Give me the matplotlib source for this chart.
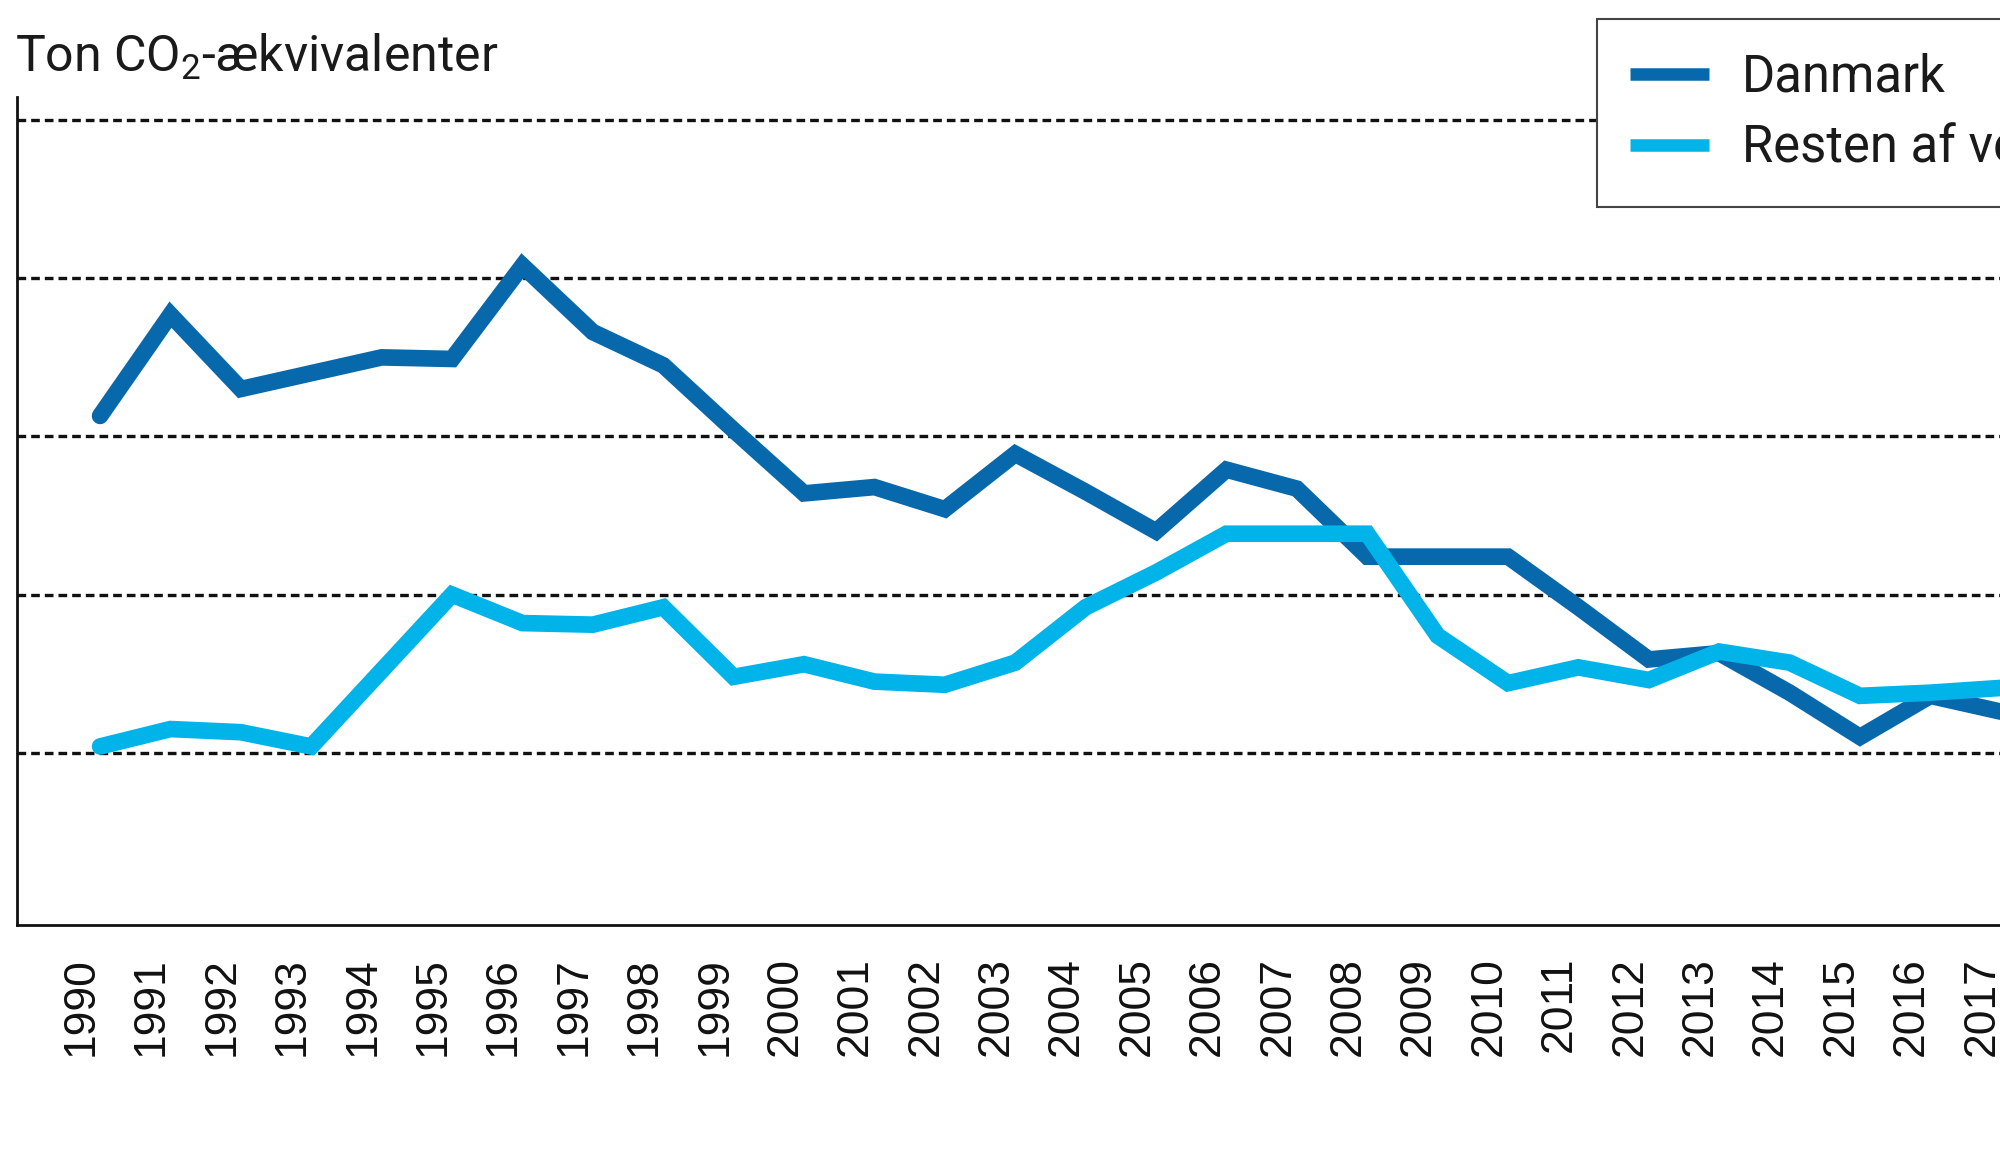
import matplotlib
matplotlib.use("Agg")
import matplotlib.pyplot as plt
import matplotlib.transforms as mtransforms

# data (relative units, no y labels in the original)
years = list(range(1990, 2018))
danmark = [3.13, 3.77, 3.30, 3.40, 3.50, 3.49, 4.08, 3.66, 3.45, 3.04,
           2.64, 2.68, 2.54, 2.89, 2.65, 2.40, 2.79, 2.67, 2.24, 2.24,
           2.24, 1.92, 1.59, 1.63, 1.38, 1.10, 1.36, 1.26]
resten = [1.04, 1.15, 1.13, 1.04, 1.52, 2.00, 1.82, 1.81, 1.92, 1.48,
          1.56, 1.45, 1.43, 1.57, 1.92, 2.14, 2.385, 2.385, 2.385, 1.74,
          1.44, 1.54, 1.46, 1.64, 1.57, 1.36, 1.38, 1.41]
grid_levels = [1, 2, 3, 4, 5]
series_names = ["Danmark", "Resten af verden"]
title_text = "Ton CO$_2$-ækvivalenter"

dark = "#0868AC"
light = "#00B3E8"

plt.rcParams["font.family"] = ["Roboto", "DejaVu Sans"]
plt.rcParams["mathtext.default"] = "regular"

fig = plt.figure(figsize=(20, 11.65), dpi=100)
# axes run past the right edge of the figure, like the cropped original
ax = fig.add_axes([0.0085, 0.206, 1.0623, 0.7107])

ax.plot(years, danmark, color=dark, lw=12, solid_joinstyle="miter",
        solid_capstyle="round", label=series_names[0], zorder=3)
ax.plot(years, resten, color=light, lw=12, solid_joinstyle="miter",
        solid_capstyle="round", label=series_names[1], zorder=4)

ax.set_xlim(1988.82, 2019)
ax.set_ylim(-0.089, 5.146)

ax.set_yticks(grid_levels)
ax.set_yticklabels([])
ax.yaxis.grid(True, color="#111111", lw=2.4, linestyle=(0, (2.6, 1.5)))
ax.set_axisbelow(True)
ax.tick_params(axis="y", length=0)

ax.set_xticks(years)
ax.set_xticklabels([str(y) for y in years], rotation=90,
                   family=["Liberation Sans", "DejaVu Sans"], fontsize=32)
ax.tick_params(axis="x", length=0, pad=23)
off = mtransforms.ScaledTranslation(-19 / 100, 0, fig.dpi_scale_trans)
for lab in ax.get_xticklabels():
    lab.set_transform(lab.get_transform() + off)
    lab.set_color("#111111")

for s in ["top", "right"]:
    ax.spines[s].set_visible(False)
for s in ["left", "bottom"]:
    ax.spines[s].set_color("#111111")
    ax.spines[s].set_linewidth(2.0)

fig.text(15 / 2000, 1 - 72 / 1165, title_text, fontsize=36,
         va="baseline", ha="left", color="#1a1a1a")

leg = fig.legend(loc="upper left", bbox_to_anchor=(1597 / 2000, 1 - 19 / 1165),
                 borderaxespad=0, fontsize=36.5, handlelength=1.55,
                 handletextpad=0.65, labelspacing=0.42, borderpad=0.66,
                 fancybox=False, framealpha=1)
leg.get_frame().set_edgecolor("#444444")
leg.get_frame().set_linewidth(1.5)
for h in leg.get_lines():
    h.set_linewidth(9)
    h.set_solid_capstyle("butt")
for t in leg.get_texts():
    t.set_color("#1a1a1a")

fig.savefig("out.png", dpi=100)
